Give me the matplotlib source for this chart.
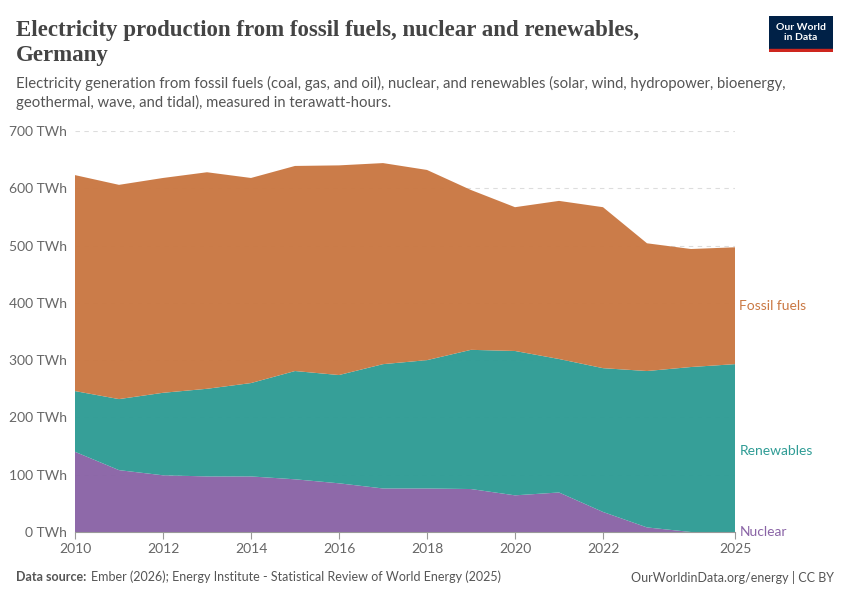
import matplotlib.pyplot as plt
import numpy as np

# Electricity production in Germany, TWh
years = list(range(2010, 2026))
nuclear = [140, 108, 99, 97, 97, 92, 85, 76, 76, 75, 64, 69, 35, 8, 0, 0]
renewables = [106, 124, 144, 153, 163, 189, 189, 217, 224, 243, 252, 233, 251, 273, 288, 293]
fossil = [377, 374, 375, 378, 358, 358, 366, 351, 332, 279, 251, 276, 281, 223, 206, 204]

series_names = ["Nuclear", "Renewables", "Fossil fuels"]
colors = ["#8a64a6", "#2f9c95", "#ca7843"]
xticks = [2010, 2012, 2014, 2016, 2018, 2020, 2022, 2025]
yticks = [0, 100, 200, 300, 400, 500, 600, 700]

plt.rcParams["font.family"] = ["Lato", "DejaVu Sans"]

fig = plt.figure(figsize=(8.5, 6), dpi=100)
ax = fig.add_axes([75 / 850, 1 - 532 / 600, 660 / 850, 401 / 600])

ax.stackplot(years, nuclear, renewables, fossil, colors=colors, alpha=0.97,
             linewidth=0, zorder=2)

ax.set_xlim(2010, 2025)
ax.set_ylim(0, 700)
ax.set_yticks(yticks)
ax.set_yticklabels([f"{v} TWh" for v in yticks])
ax.set_xticks(xticks)
ax.set_xticklabels([str(x) for x in xticks])
ax.grid(axis="y", color="#dddddd", linestyle=(0, (4, 4)), linewidth=0.8, zorder=3)
for s in ["top", "right", "left"]:
    ax.spines[s].set_visible(False)
ax.spines["bottom"].set_color("#999999")
ax.tick_params(axis="y", length=0, labelsize=10, labelcolor="#666666", pad=6)
ax.tick_params(axis="x", length=5, color="#999999", labelsize=10,
               labelcolor="#666666", pad=3)

# labels on the right
cum = np.cumsum([nuclear, renewables, fossil], axis=0)
label_y = [0, 0, 0]
label_y[0] = cum[0][-1] / 2
label_y[1] = (cum[0][-1] + cum[1][-1]) / 2 - 5
label_y[2] = (cum[1][-1] + cum[2][-1]) / 2
for name, c, yv in zip(series_names, colors, label_y):
    ax.text(2025.1, yv, name, color=c, fontsize=10, va="center", ha="left",
            clip_on=False)

fig.text(16 / 850, 1 - 43 / 600,
         "Electricity production from fossil fuels, nuclear and renewables,\nGermany",
         fontsize=16.5, fontweight="bold", family=["Liberation Serif", "DejaVu Serif"],
         color="#444444", va="center", ha="left", linespacing=1.25)
fig.text(16 / 850, 1 - 93 / 600,
         "Electricity generation from fossil fuels (coal, gas, and oil), nuclear, and renewables (solar, wind, hydropower, bioenergy,\ngeothermal, wave, and tidal), measured in terawatt-hours.",
         fontsize=10.7, color="#555555", va="center", ha="left", linespacing=1.35)

# logo
logo = fig.add_axes([769 / 850, 1 - 52 / 600, 64 / 850, 36 / 600])
logo.set_xlim(0, 1)
logo.set_ylim(0, 1)
logo.axis("off")
logo.add_patch(plt.Rectangle((0, 0.08), 1, 0.92, color="#002147"))
logo.add_patch(plt.Rectangle((0, 0), 1, 0.08, color="#ce261e"))
logo.text(0.5, 0.55, "Our World\nin Data", color="white", fontsize=7.5,
          fontweight="bold", ha="center", va="center", linespacing=1.1)

fig.text(16 / 850, 1 - 577 / 600, "Data source:", fontsize=9, fontweight="bold",
         color="#555555", va="center", ha="left")
fig.text(91 / 850, 1 - 577 / 600,
         "Ember (2026); Energy Institute - Statistical Review of World Energy (2025)",
         fontsize=9, color="#555555", va="center", ha="left")
fig.text(834 / 850, 1 - 577 / 600, "OurWorldinData.org/energy | CC BY",
         fontsize=9, color="#555555", va="center", ha="right")

fig.savefig("out.png", dpi=100)
